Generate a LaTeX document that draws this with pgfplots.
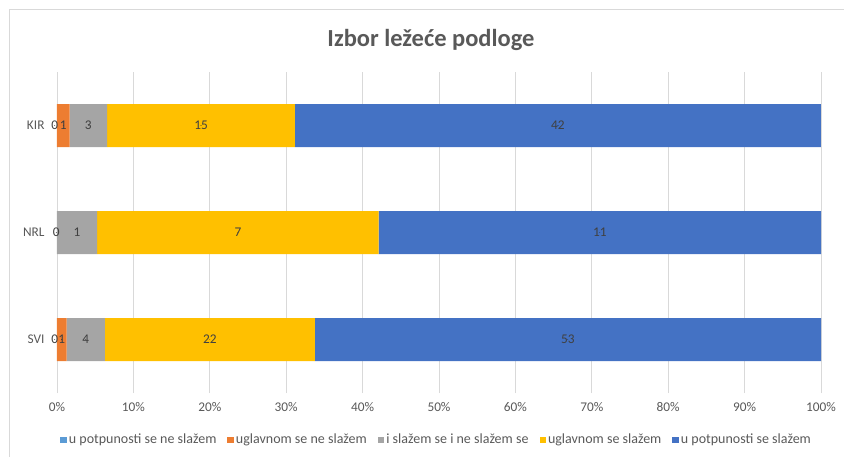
\documentclass[border=0pt]{standalone}
\usepackage{pgfplots}
\pgfplotsset{compat=1.18}
\usepackage{fontspec}
\setmainfont{Carlito}
\definecolor{c1}{HTML}{5B9BD5}
\definecolor{c2}{HTML}{ED7D31}
\definecolor{c3}{HTML}{A5A5A5}
\definecolor{c4}{HTML}{FFC000}
\definecolor{c5}{HTML}{4472C4}
\definecolor{gridc}{HTML}{D9D9D9}
\definecolor{txt}{HTML}{595959}
\definecolor{lbl}{HTML}{404040}
\begin{document}
\begin{tikzpicture}[x=1pt,y=1pt]
\useasboundingbox (0,0) rectangle (844,456);
\draw[gridc] (9.5,-2) -- (9.5,446.5) -- (846,446.5);
\node[font=\fontsize{24.5}{28}\selectfont\bfseries, text=txt] at (431,416) {Izbor ležeće podloge};
\begin{axis}[
  at={(57pt,63pt)}, anchor=south west,
  scale only axis, width=764pt, height=321pt,
  xbar stacked, bar width=43pt,
  xmin=0, xmax=100, ymin=-0.5, ymax=2.5,
  ytick={0,1,2}, yticklabels={SVI,NRL,KIR},
  xtick={0,10,20,30,40,50,60,70,80,90,100},
  xticklabels={0\%,10\%,20\%,30\%,40\%,50\%,60\%,70\%,80\%,90\%,100\%},
  axis line style={draw=none},
  major tick length=0pt,
  xmajorgrids, grid style={gridc, line width=0.8pt},
  tick label style={font=\fontsize{13.3}{16}\selectfont, text=txt},
  xticklabel style={yshift=-6pt},
  yticklabel style={xshift=-9pt},
  legend style={at={(0.497,-0.146)}, anchor=center, draw=none, fill=none,
    legend columns=-1, font=\fontsize{14}{17}\selectfont, text=txt,
    /tikz/every even column/.append style={column sep=9pt},
    nodes={inner xsep=2pt},
    inner sep=0pt},
  legend image code/.code={\fill[#1] (0pt,-3.2pt) rectangle (6.5pt,3.3pt);},
]
\addplot[fill=c1, draw=none] coordinates {(0,0) (0,1) (0,2)};
\addplot[fill=c2, draw=none] coordinates {(1.25,0) (0,1) (1.639,2)};
\addplot[fill=c3, draw=none] coordinates {(5,0) (5.263,1) (4.918,2)};
\addplot[fill=c4, draw=none] coordinates {(27.5,0) (36.842,1) (24.590,2)};
\addplot[fill=c5, draw=none] coordinates {(66.25,0) (57.895,1) (68.852,2)};
\legend{u potpunosti se ne slažem, uglavnom se ne slažem, i slažem se i ne slažem se, uglavnom se slažem, u potpunosti se slažem}
\end{axis}
\begin{axis}[
  at={(57pt,63pt)}, anchor=south west,
  scale only axis, width=764pt, height=321pt,
  xmin=0, xmax=100, ymin=-0.5, ymax=2.5,
  hide axis, clip=false,
  point meta=explicit symbolic,
  nodes near coords, nodes near coords align=center,
  every node near coord/.append style={anchor=center, text=lbl, font=\fontsize{13.3}{16}\selectfont},
]
\addplot[only marks, mark=*, mark size=0.01pt, mark options={draw=none, fill=none}] coordinates {(-0.3,0)[0] (-0.3,2)[0]};
\addplot[only marks, mark=*, mark size=0.01pt, mark options={draw=none, fill=none}] coordinates {(0.625,0)[1] (-0.1,1)[0] (0.82,2)[1]};
\addplot[only marks, mark=*, mark size=0.01pt, mark options={draw=none, fill=none}] coordinates {(3.75,0)[4] (2.632,1)[1] (4.098,2)[3]};
\addplot[only marks, mark=*, mark size=0.01pt, mark options={draw=none, fill=none}] coordinates {(20,0)[22] (23.684,1)[7] (18.852,2)[15]};
\addplot[only marks, mark=*, mark size=0.01pt, mark options={draw=none, fill=none}] coordinates {(66.875,0)[53] (71.053,1)[11] (65.574,2)[42]};
\end{axis}
\end{tikzpicture}
\end{document}
